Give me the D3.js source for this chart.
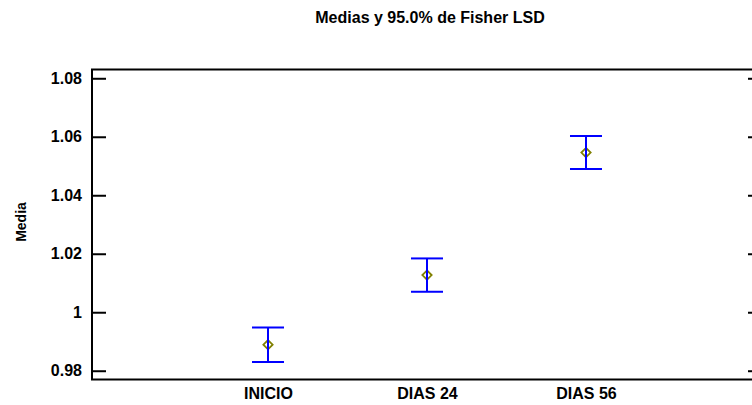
<!DOCTYPE html>
<html>
<head>
<meta charset="utf-8">
<script src="https://cdn.jsdelivr.net/npm/d3@7"></script>
<style>
  body { margin: 0; background: #fff; }
  svg { display: block; font-family: "Liberation Sans", Arial, sans-serif; }
  .axis text { font-size: 16px; font-weight: bold; fill: #000; }
  .axis path.domain { display: none; }
  .axis line { stroke: #000; stroke-width: 2px; }
</style>
</head>
<body>
<svg id="chart" width="752" height="405"></svg>
<script>
// data
const categories = ["INICIO", "DIAS 24", "DIAS 56"];
const means = [0.9889, 1.0127, 1.0546];
const lower = [0.9830, 1.0070, 1.0490];
const upper = [0.9948, 1.0184, 1.0603];
const yTicks = [0.98, 1, 1.02, 1.04, 1.06, 1.08];
const yDomain = [0.977, 1.083];

const title = "Medias y 95.0% de Fisher LSD";
const yTitle = "Media";

const margin = { left: 92, right: -10, top: 69.5, bottom: 25.5 };
const width = 752, height = 405;

const svg = d3.select("#chart");

const xScale = d3.scalePoint()
    .domain(categories)
    .range([margin.left, width - margin.right])
    .padding(1.107);

const yScale = d3.scaleLinear()
    .domain(yDomain)
    .range([height - margin.bottom, margin.top]);

const rows = categories.map((c, i) => ({ cat: c, mean: means[i], lo: lower[i], hi: upper[i] }));

// frame
svg.append("rect")
    .attr("x", margin.left)
    .attr("y", yScale(yDomain[1]))
    .attr("width", xScale.range()[1] - margin.left)
    .attr("height", yScale(yDomain[0]) - yScale(yDomain[1]))
    .attr("fill", "none")
    .attr("stroke", "#000")
    .attr("stroke-width", 2);

// axes
svg.append("g")
    .attr("class", "axis")
    .attr("transform", `translate(${margin.left},0)`)
    .call(d3.axisLeft(yScale).tickValues(yTicks).tickSize(-14).tickPadding(10)
        .tickFormat(d => d3.format("")(+d.toFixed(2))));

svg.append("g")
    .attr("class", "axis")
    .attr("transform", `translate(${xScale.range()[1]},0)`)
    .call(d3.axisRight(yScale).tickValues(yTicks).tickSize(-14).tickFormat(""));

svg.append("g")
    .attr("class", "axis")
    .attr("transform", `translate(0,${yScale(yDomain[0])})`)
    .call(d3.axisBottom(xScale).tickSize(0).tickPadding(8.6));

// intervals
const capW = 16;
const g = svg.append("g");

g.selectAll("path.diamond")
    .data(rows)
    .enter().append("path")
    .attr("class", "diamond")
    .attr("d", d3.symbol().type(d3.symbolDiamond2).size(55))
    .attr("transform", d => `translate(${xScale(d.cat)},${yScale(d.mean)})`)
    .attr("fill", "none")
    .attr("stroke", "#808000")
    .attr("stroke-width", 1.8);

g.selectAll("line.stem")
    .data(rows)
    .enter().append("line")
    .attr("class", "stem")
    .attr("x1", d => xScale(d.cat))
    .attr("x2", d => xScale(d.cat))
    .attr("y1", d => yScale(d.hi))
    .attr("y2", d => yScale(d.lo))
    .attr("stroke", "#0000ff")
    .attr("stroke-width", 2);

["hi", "lo"].forEach(k => {
    g.selectAll("line.cap-" + k)
        .data(rows)
        .enter().append("line")
        .attr("class", "cap-" + k)
        .attr("x1", d => xScale(d.cat) - capW)
        .attr("x2", d => xScale(d.cat) + capW)
        .attr("y1", d => yScale(d[k]))
        .attr("y2", d => yScale(d[k]))
        .attr("stroke", "#0000ff")
        .attr("stroke-width", 2);
});

// titles
svg.append("text")
    .attr("x", 430)
    .attr("y", 23)
    .attr("text-anchor", "middle")
    .style("font-size", "16px")
    .style("font-weight", "bold")
    .text(title);

svg.append("text")
    .attr("transform", `translate(26,222) rotate(-90)`)
    .attr("text-anchor", "middle")
    .style("font-size", "14px")
    .style("font-weight", "bold")
    .text(yTitle);
</script>
</body>
</html>
